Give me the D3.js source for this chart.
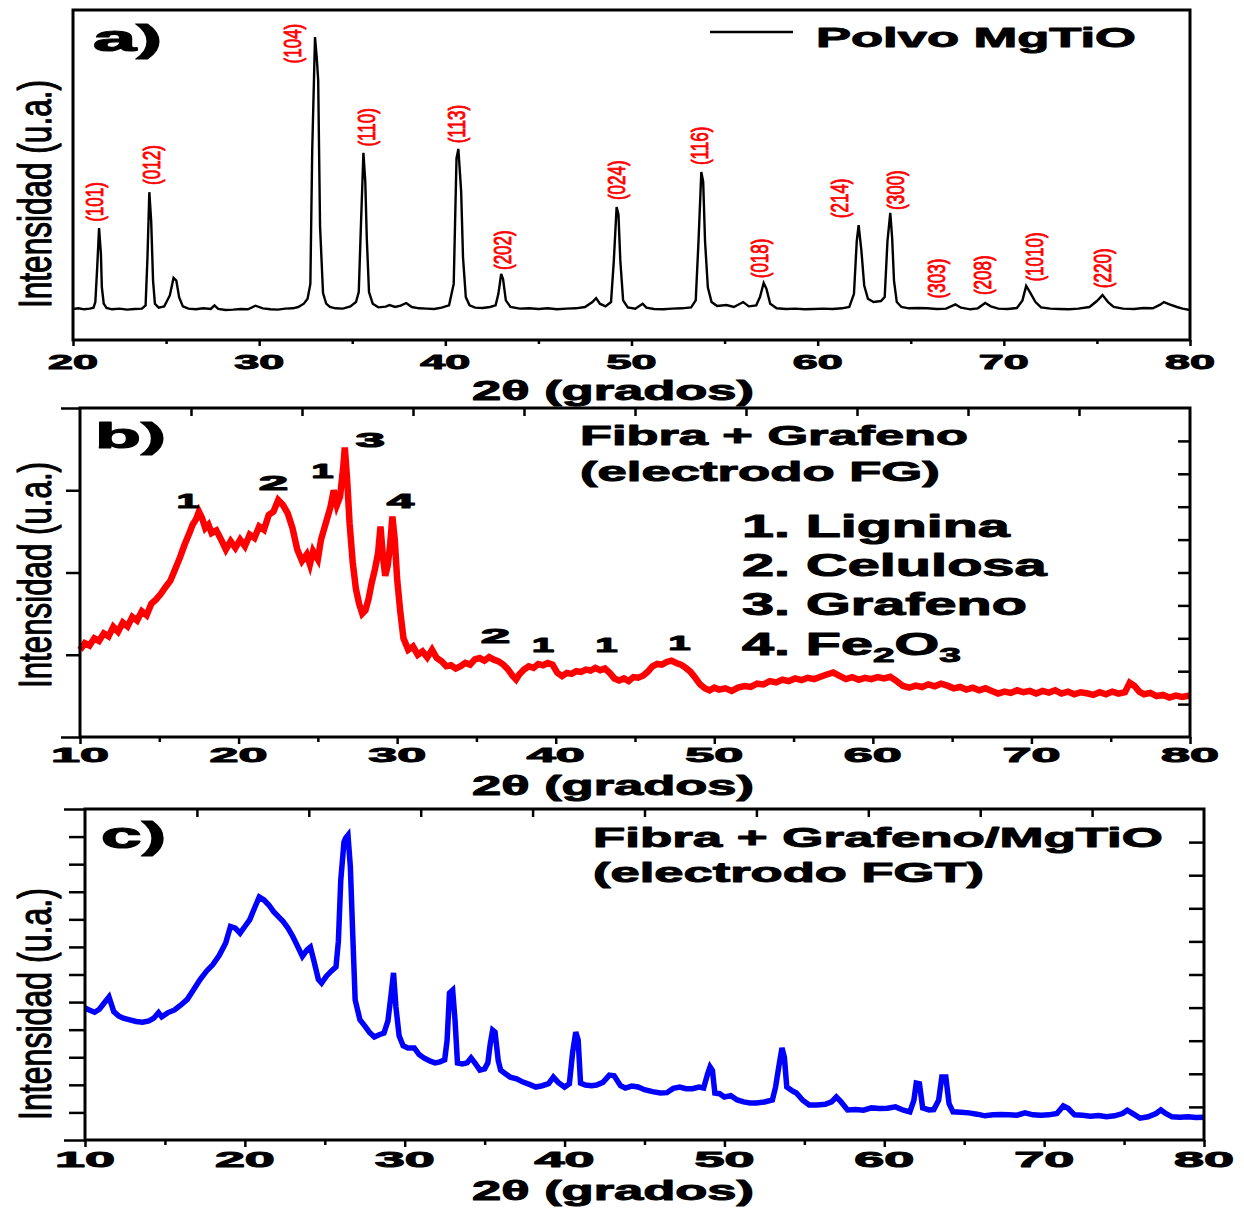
<!DOCTYPE html>
<html><head><meta charset="utf-8">
<script src="https://cdn.jsdelivr.net/npm/d3@7"></script>
<style>body{margin:0;background:#fff}svg{display:block}</style>
</head><body>
<svg id="chart" width="1244" height="1209"></svg>
<script>
// ---------------- DATA ----------------
// Panel a) Polvo MgTiO  (2θ in degrees, intensity in a.u. 0-100)
const angleA = [20.0,20.3,20.6,20.9,21.1,21.2,21.3,21.4,21.5,21.55,21.65,21.8,22.1,22.5,22.9,23.3,23.7,23.9,24.0,24.1,24.2,24.3,24.4,24.6,24.9,25.2,25.4,25.55,25.7,25.9,26.2,26.6,27.0,27.4,27.6,27.8,28.2,28.6,29.0,29.4,29.8,30.2,30.6,31.0,31.4,31.8,32.1,32.4,32.6,32.75,32.85,33.0,33.1,33.17,33.27,33.43,33.6,33.8,34.1,34.5,34.9,35.2,35.35,35.45,35.6,35.7,35.78,35.9,36.1,36.4,36.8,37.0,37.3,37.6,37.9,38.2,38.6,39.0,39.4,39.8,40.2,40.45,40.6,40.7,40.85,40.95,41.1,41.3,41.6,42.0,42.4,42.7,42.85,43.0,43.1,43.25,43.5,44.0,44.5,45.0,45.5,46.0,46.5,47.0,47.5,47.9,48.1,48.3,48.6,48.9,49.05,49.2,49.3,49.4,49.55,49.8,50.2,50.6,50.8,51.2,51.7,52.2,52.7,53.2,53.45,53.6,53.75,53.85,53.95,54.1,54.3,54.6,55.1,55.5,56.0,56.3,56.7,56.9,57.1,57.25,57.45,57.8,58.3,58.8,59.3,59.8,60.3,60.8,61.3,61.7,61.95,62.1,62.2,62.35,62.5,62.7,63.0,63.4,63.6,63.75,63.9,64.0,64.1,64.25,64.5,64.9,65.4,65.9,66.4,66.9,67.4,67.7,68.2,68.6,69.0,69.3,69.7,70.2,70.7,71.0,71.2,71.4,71.7,72.0,72.5,73.0,73.5,74.0,74.6,75.0,75.3,75.6,75.9,76.4,77.0,77.5,78.0,78.4,78.6,78.9,79.3,79.6,80.0];
const intensityA = [9.4,9.6,9.3,9.5,9.8,11.5,22.0,33.9,26.0,16.0,11.0,9.7,9.3,9.5,9.2,9.4,9.5,10.5,25.0,44.8,36.0,18.0,11.0,9.8,10.2,13.5,18.8,18.0,13.0,10.2,9.5,9.3,9.6,9.4,10.5,9.4,9.1,9.2,9.4,9.3,10.4,9.6,9.3,9.2,9.5,9.6,10.0,11.0,12.5,17.0,57.6,91.8,85.0,78.8,34.5,14.2,11.0,10.0,9.6,9.5,10.2,11.5,14.5,32.0,56.7,48.0,31.0,14.5,11.0,9.9,10.1,10.6,10.0,10.4,11.2,10.0,9.6,9.5,9.4,9.8,10.5,17.0,55.0,57.9,45.0,25.0,13.0,10.5,9.8,9.7,10.0,10.5,14.0,20.0,18.5,12.0,10.0,9.5,9.6,9.4,9.6,9.3,9.5,9.6,10.0,11.5,12.7,11.0,10.2,11.5,24.0,40.3,38.0,24.0,12.0,9.9,9.5,11.0,9.8,9.4,9.3,9.5,9.6,9.9,12.0,30.0,50.9,48.0,30.0,16.0,11.5,10.3,10.6,10.0,11.5,10.2,10.5,13.0,17.3,15.5,11.0,9.6,9.4,9.5,9.3,9.4,9.5,9.4,9.6,10.0,14.0,30.0,34.8,27.0,16.5,12.5,11.5,11.8,13.0,30.0,38.5,31.0,18.0,11.5,10.0,9.6,9.7,9.6,9.4,9.5,10.8,9.8,9.3,9.6,11.2,10.2,9.5,9.4,9.7,12.0,16.4,14.5,11.5,9.9,9.5,9.4,9.3,9.5,10.0,11.8,13.6,11.5,10.0,9.5,9.4,9.7,9.6,10.7,11.5,10.8,10.0,9.5,9.1];
const hklLabels = ["(101)","(012)","(104)","(110)","(113)","(202)","(024)","(116)","(018)","(214)","(300)","(303)","(208)","(1010)","(220)"];
const hklAngle  = [21.2,24.25,31.8,35.8,40.6,43.1,49.2,53.7,56.9,61.2,64.2,66.4,68.9,71.7,75.3];
const hklBase   = [35.8,47.0,83.8,58.6,59.6,21.2,42.4,53.0,18.7,36.9,39.4,12.6,13.6,17.7,15.7];
const legendA = "Polvo MgTiO";

// Panel b) Fibra + Grafeno (electrodo FG)
const angleB = [10.0,10.3,10.6,10.9,11.2,11.5,11.8,12.1,12.4,12.7,13.0,13.3,13.6,13.9,14.2,14.5,14.8,15.1,15.4,15.7,16.0,16.3,16.6,16.9,17.1,17.3,17.5,17.7,17.9,18.1,18.3,18.6,18.9,19.2,19.5,19.8,20.1,20.4,20.7,21.0,21.3,21.6,21.9,22.2,22.5,22.8,23.1,23.4,23.7,24.0,24.3,24.5,24.7,25.0,25.2,25.5,25.8,26.0,26.2,26.4,26.6,26.7,26.85,27.0,27.2,27.4,27.6,27.8,28.0,28.2,28.4,28.6,28.8,28.95,29.1,29.25,29.4,29.55,29.7,29.85,30.0,30.2,30.4,30.7,31.0,31.3,31.6,31.9,32.2,32.5,32.8,33.1,33.4,33.7,34.0,34.3,34.6,34.9,35.2,35.5,35.8,36.1,36.4,36.7,37.0,37.3,37.5,37.7,38.0,38.3,38.6,38.9,39.2,39.5,39.8,40.1,40.4,40.7,41.0,41.3,41.6,41.9,42.2,42.5,42.8,43.1,43.4,43.7,44.0,44.3,44.6,44.9,45.2,45.5,45.8,46.1,46.4,46.7,47.0,47.3,47.6,47.9,48.2,48.5,48.8,49.1,49.4,49.7,50.0,50.3,50.7,51.1,51.5,51.9,52.3,52.7,53.1,53.5,53.9,54.3,54.7,55.1,55.5,55.9,56.3,56.7,57.1,57.5,57.9,58.3,58.7,59.1,59.5,59.9,60.3,60.7,61.1,61.5,61.9,62.3,62.7,63.1,63.5,63.9,64.3,64.7,65.1,65.5,65.9,66.3,66.7,67.1,67.5,67.9,68.3,68.7,69.1,69.5,69.9,70.3,70.7,71.1,71.5,71.9,72.3,72.7,73.1,73.5,73.9,74.3,74.7,75.1,75.5,75.9,76.2,76.5,76.8,77.1,77.5,77.9,78.3,78.7,79.1,79.5,80.0];
const intensityB = [26.5,28.5,27.8,30.0,29.2,31.5,30.6,33.5,32.0,34.8,33.6,36.5,35.4,38.2,37.0,40.5,41.8,43.5,45.6,47.5,51.0,54.5,58.5,62.0,64.5,66.0,68.5,66.5,63.5,64.5,62.0,62.8,60.0,57.0,59.5,57.5,60.0,58.0,61.5,60.5,64.0,63.0,67.5,68.5,72.0,70.5,68.0,63.5,57.0,53.5,55.5,52.5,56.5,54.0,60.0,65.0,70.0,75.0,70.5,73.0,82.0,88.0,78.0,65.0,53.0,45.0,40.5,37.5,38.5,42.0,47.0,51.0,56.0,64.0,55.0,49.0,52.0,58.0,67.0,60.0,48.0,38.0,30.0,26.5,27.5,25.0,26.0,24.2,26.5,24.0,23.0,21.5,21.8,20.8,21.5,22.5,22.0,23.6,24.0,23.2,24.3,23.5,23.0,22.0,20.5,18.5,17.5,19.0,20.5,21.5,21.0,22.2,21.8,22.5,22.0,19.5,18.5,19.5,19.2,20.0,19.8,20.5,20.2,21.0,20.3,20.8,19.5,17.8,17.2,17.8,17.0,18.2,18.0,18.6,19.8,21.5,22.2,22.0,22.8,23.2,22.5,22.0,21.0,19.8,18.0,16.0,14.8,14.2,15.0,14.4,14.8,14.0,15.0,15.5,15.2,16.2,16.0,17.0,16.6,17.4,17.0,17.8,17.3,18.0,17.6,18.3,19.0,19.6,18.6,17.6,18.2,17.4,18.0,17.6,18.2,17.8,18.3,17.0,15.5,15.0,15.6,15.2,16.0,15.4,16.2,15.6,14.8,15.2,14.4,15.0,14.2,14.8,14.0,13.2,13.8,13.4,14.2,13.6,14.0,13.2,14.0,13.5,14.2,13.2,13.8,13.0,13.6,13.3,12.8,13.6,13.0,13.8,13.2,13.6,16.5,15.5,13.8,13.0,13.4,12.4,12.8,12.0,12.6,12.2,12.6];
const peakTagsB   = ["1","2","1","3","4","2","1","1","1"];
const peakAngleB  = [16.8,22.2,25.3,28.3,30.2,36.2,39.2,43.2,47.8];
const peakLevelB  = [69.6,75.1,78.7,88.1,69.6,28.6,25.8,25.8,26.4];
const titleB = ["Fibra + Grafeno","(electrodo FG)"];
const phasesB = ["1. Lignina","2. Celulosa","3. Grafeno"];

// Panel c) Fibra + Grafeno/MgTiO (electrodo FGT)
const angleC = [10.0,10.3,10.6,10.9,11.2,11.5,11.8,12.1,12.4,12.8,13.2,13.6,14.0,14.3,14.6,14.8,15.2,15.6,16.0,16.4,16.8,17.2,17.6,18.0,18.4,18.8,19.1,19.4,19.7,20.0,20.3,20.6,20.9,21.2,21.5,21.8,22.1,22.4,22.7,23.0,23.3,23.6,23.9,24.1,24.3,24.6,24.8,25.1,25.4,25.7,25.85,26.0,26.2,26.3,26.45,26.6,26.75,26.9,27.2,27.5,27.8,28.1,28.4,28.7,28.95,29.15,29.3,29.45,29.65,29.9,30.2,30.6,30.9,31.2,31.6,31.9,32.2,32.5,32.65,32.8,33.0,33.15,33.3,33.6,33.9,34.15,34.4,34.7,35.0,35.2,35.35,35.5,35.65,35.85,36.0,36.3,36.6,37.0,37.4,37.8,38.2,38.6,39.0,39.3,39.6,40.0,40.3,40.5,40.7,40.85,41.0,41.3,41.7,42.0,42.4,42.8,43.1,43.5,43.8,44.2,44.6,45.0,45.5,46.0,46.4,46.8,47.2,47.6,48.0,48.4,48.7,48.95,49.1,49.25,49.4,49.7,50.0,50.4,50.8,51.2,51.6,52.0,52.5,53.0,53.2,53.4,53.6,53.75,53.9,54.2,54.5,54.9,55.3,55.8,56.3,56.7,57.0,57.3,57.7,58.2,58.7,59.2,59.7,60.2,60.7,61.2,61.6,61.85,62.0,62.2,62.4,62.8,63.1,63.4,63.6,63.85,64.05,64.3,64.8,65.3,65.8,66.3,66.8,67.3,67.8,68.3,68.8,69.3,69.8,70.3,70.8,71.2,71.5,71.9,72.4,72.9,73.4,73.9,74.4,74.9,75.2,75.6,76.0,76.5,77.0,77.3,77.6,78.0,78.5,79.0,79.5,80.0];
const intensityC = [39.9,39.2,38.6,39.5,41.4,43.2,38.8,37.5,36.8,36.3,35.8,35.6,36.0,36.8,38.5,37.2,38.5,39.3,40.8,42.5,45.5,48.5,51.0,53.0,55.8,59.5,64.5,64.0,62.5,64.5,66.5,70.0,73.4,72.5,71.0,69.0,67.5,66.0,64.0,61.5,58.5,55.5,57.5,58.3,54.5,48.5,47.4,49.5,51.0,52.3,60.0,78.5,90.0,91.2,92.1,82.5,62.0,42.3,36.3,34.5,32.5,31.1,31.8,32.3,36.0,44.0,50.5,40.2,31.5,28.5,27.8,27.8,25.8,24.8,23.8,23.3,23.6,24.2,30.0,44.4,45.3,36.0,23.3,23.0,23.3,24.8,23.2,21.1,21.5,23.3,29.0,33.2,32.6,24.0,21.1,20.0,19.0,18.5,17.5,16.8,16.0,16.4,17.0,19.0,17.4,16.0,17.0,26.3,32.6,30.2,17.2,16.6,16.4,16.6,17.4,19.6,19.4,16.4,15.7,16.3,16.0,15.2,14.6,14.2,14.3,15.6,16.0,15.5,15.5,16.0,15.7,20.0,22.1,21.0,14.2,14.0,13.0,13.4,12.1,11.5,11.2,11.2,11.5,12.1,16.0,22.1,27.8,25.0,16.0,15.0,14.2,12.0,10.6,10.6,10.8,11.5,13.0,11.5,9.1,9.2,9.0,9.7,9.5,9.6,10.0,9.0,8.5,12.0,17.2,17.0,9.7,9.1,9.2,12.0,19.0,19.0,11.0,8.5,8.4,8.2,7.8,7.3,7.6,7.7,7.6,7.5,8.2,7.6,7.5,7.6,8.0,10.3,9.6,7.6,7.5,7.2,7.4,7.0,7.3,8.0,9.0,7.8,6.6,7.0,8.0,9.1,8.0,7.0,6.9,7.0,6.8,6.9];
const titleC = ["Fibra + Grafeno/MgTiO","(electrodo FGT)"];

const tickAngles20 = [20,30,40,50,60,70,80];
const tickAngles10 = [10,20,30,40,50,60,70,80];
const yTitle = "Intensidad (u.a.)";
const xTitle = "2\u03B8 (grados)";

// ---------------- DRAWING ----------------
const svg = d3.select("#chart");
svg.append("rect").attr("width",1244).attr("height",1209).attr("fill","#fff");
const FONT = "'Liberation Sans', Arial, sans-serif";

function fit(parent, o) {
  const g = parent.append("g").attr("transform", `translate(${o.x},${o.y})` + (o.rot ? " rotate(-90)" : ""));
  const fill = o.fill || "#000";
  const t = g.append("text")
    .attr("font-family", o.family || FONT)
    .attr("font-weight", o.weight || "bold")
    .attr("font-size", o.size)
    .attr("fill", fill)
    .attr("text-anchor", o.anchor || "start");
  if (o.sw) t.attr("stroke", fill).attr("stroke-width", o.sw).attr("stroke-linejoin", "round");
  if (o.dy) t.attr("dy", o.dy);
  if (o.parts) {
    o.parts.forEach(p => t.append("tspan").attr("font-size", p.size || o.size).attr("dy", p.dy || 0).text(p.t));
  } else t.text(o.text);
  if (o.width) {
    const w = t.node().getBBox().width;
    t.attr("transform", `scale(${o.width / w},1)`);
  } else if (o.k) t.attr("transform", `scale(${o.k},1)`);
  return t;
}

function panel(cfg) {
  const x = d3.scaleLinear().domain(cfg.xdom).range([cfg.x0, cfg.x1]);
  const y = d3.scaleLinear().domain([0, 100]).range([cfg.y1, cfg.y0]);
  const g = svg.append("g");

  // curve
  const line = d3.line().x(d => x(d[0])).y(d => y(d[1]));
  const pts = cfg.ax.map((a, i) => [a, cfg.ay[i]]);
  g.append("path").datum(pts).attr("d", line).attr("fill", "none")
    .attr("stroke", cfg.color).attr("stroke-width", cfg.lw).attr("stroke-linejoin", "miter");

  const styleAxis = (sel) => {
    sel.select(".domain").remove();
    sel.selectAll(".tick line").attr("stroke", "#000").attr("stroke-width", 2.5);
    sel.selectAll("text").remove();
  };
  // bottom major/minor (outward)
  g.append("g").attr("transform", `translate(0,${cfg.y1})`)
    .call(d3.axisBottom(x).tickValues(cfg.major).tickSize(cfg.tb)).call(styleAxis);
  const minor = cfg.major.slice(0, -1).map(v => v + 5);
  g.append("g").attr("transform", `translate(0,${cfg.y1})`)
    .call(d3.axisBottom(x).tickValues(minor).tickSize(cfg.tb - 2)).call(styleAxis);

  if (cfg.leftN) {
    const lv = d3.range(1, cfg.leftN).map(i => i * 100 / cfg.leftN);
    g.append("g").attr("transform", `translate(${cfg.x0},0)`)
      .call(d3.axisLeft(y).tickValues(lv).tickSize(cfg.tl)).call(styleAxis);
    g.append("g").attr("transform", `translate(${cfg.x0},0)`)
      .call(d3.axisLeft(y).tickValues([0, 100]).tickSize(cfg.tl + 5)).call(styleAxis);
  }
  if (cfg.rightN) {
    const rv = d3.range(1, cfg.rightN).map(i => i * 100 / cfg.rightN);
    g.append("g").attr("transform", `translate(${cfg.x1},0)`)
      .call(d3.axisLeft(y).tickValues(rv).tickSize(cfg.tr)).call(styleAxis);
  }
  if (cfg.topN) {
    const span = cfg.xdom[1] - cfg.xdom[0];
    const tv = d3.range(1, cfg.topN).map(i => cfg.xdom[0] + i * span / cfg.topN);
    g.append("g").attr("transform", `translate(0,${cfg.y0})`)
      .call(d3.axisBottom(x).tickValues(tv).tickSize(8)).call(styleAxis);
  }

  // frame
  g.append("rect").attr("x", cfg.x0).attr("y", cfg.y0)
    .attr("width", cfg.x1 - cfg.x0).attr("height", cfg.y1 - cfg.y0)
    .attr("fill", "none").attr("stroke", "#000").attr("stroke-width", 3);

  // tick labels
  cfg.major.forEach(v => fit(g, { x: x(v), y: cfg.y1 + cfg.tlOff, text: String(v), size: cfg.tlSize, anchor: "middle", width: cfg.tlW, sw: 1 }));
  // axis titles
  fit(g, { x: 613, y: cfg.y1 + cfg.xtOff, text: xTitle, size: 28, anchor: "middle", width: 282, sw: 1 });
  fit(g, { x: 51, y: cfg.ytY, text: yTitle, size: 46, weight: "normal", anchor: "middle", rot: true, width: cfg.ytW, sw: 1.2 });
  // panel letter
  fit(g, { x: cfg.letX, y: cfg.letY, text: cfg.letter, size: 36, width: cfg.letW, sw: 1.2 });
  return { x, y, g };
}

// Panel a
const A = panel({ xdom: [20, 80], x0: 73, x1: 1190, y0: 10, y1: 340, ax: angleA, ay: intensityA,
  color: "#000", lw: 2.4, major: tickAngles20, tb: 6, leftN: 0, rightN: 0, topN: 0,
  tlOff: 29, tlSize: 21, tlW: 50, xtOff: 60, ytY: 194, ytW: 228,
  letter: "a)", letX: 93, letY: 51, letW: 69 });
hklLabels.forEach((s, i) => fit(A.g, { x: A.x(hklAngle[i]) + 8, y: A.y(hklBase[i]), text: s, size: 24,
  weight: "normal", fill: "#ff0000", rot: true, k: 0.71, sw: 0.9 }));
A.g.append("line").attr("x1", 710).attr("x2", 793).attr("y1", 32).attr("y2", 32).attr("stroke", "#000").attr("stroke-width", 2.5);
fit(A.g, { x: 816, y: 47, text: legendA, size: 28, width: 320, sw: 1 });

// Panel b
const B = panel({ xdom: [10, 80], x0: 80, x1: 1190, y0: 408, y1: 737, ax: angleB, ay: intensityB,
  color: "#ff0000", lw: 6.5, major: tickAngles10, tb: 7, leftN: 4, tl: 14, rightN: 10, tr: 12, topN: 10,
  tlOff: 25, tlSize: 21, tlW: 58, xtOff: 58, ytY: 575, ytW: 226,
  letter: "b)", letX: 95, letY: 448, letW: 71 });
peakTagsB.forEach((s, i) => fit(B.g, { x: B.x(peakAngleB[i]), y: B.y(peakLevelB[i]), text: s, size: 20,
  anchor: "middle", width: s === "1" ? 22 : 29, sw: 1.2 }));
fit(B.g, { x: 580, y: 445, text: titleB[0], size: 28, width: 388, sw: 1 });
fit(B.g, { x: 580, y: 481, text: titleB[1], size: 28, width: 360, sw: 1 });
[537, 576, 615].forEach((yy, i) => fit(B.g, { x: 742, y: yy, text: phasesB[i], size: 31, width: [269, 306, 285][i], sw: 1 }));
fit(B.g, { x: 742, y: 655, size: 31, width: 219, sw: 1, parts: [
  { t: "4. Fe" }, { t: "2", size: 21, dy: 7 }, { t: "O", dy: -7 }, { t: "3", size: 21, dy: 7 } ] });

// Panel c
const C = panel({ xdom: [10, 80], x0: 85, x1: 1204, y0: 809, y1: 1140, ax: angleC, ay: intensityC,
  color: "#0000ff", lw: 5.5, major: tickAngles10, tb: 7, leftN: 12, tl: 16, rightN: 10, tr: 15, topN: 10,
  tlOff: 27, tlSize: 22, tlW: 60, xtOff: 60, ytY: 1004, ytW: 232,
  letter: "c)", letX: 101, letY: 848, letW: 65 });
fit(C.g, { x: 593, y: 847, text: titleC[0], size: 28, width: 570, sw: 1 });
fit(C.g, { x: 593, y: 882, text: titleC[1], size: 28, width: 391, sw: 1 });
</script>
</body></html>
